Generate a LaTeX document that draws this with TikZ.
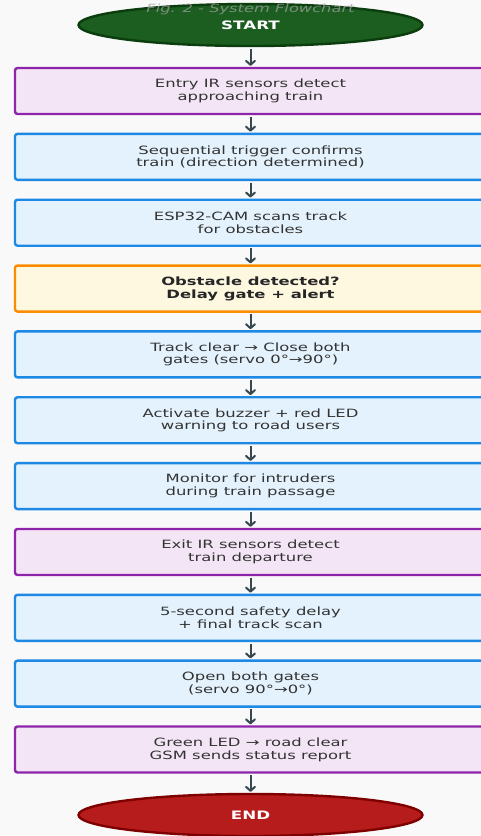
\documentclass[tikz,border=0pt]{standalone}
\usepackage{fontspec}
\setmainfont[FakeStretch=1.44]{DejaVu Sans}
\usetikzlibrary{shapes.geometric,arrows.meta}
\definecolor{bgc}{HTML}{F9F9F9}
\definecolor{purpB}{HTML}{8E24AA}
\definecolor{purpF}{HTML}{F3E5F5}
\definecolor{blueB}{HTML}{1E88E5}
\definecolor{blueF}{HTML}{E3F2FD}
\definecolor{orgB}{HTML}{FB8C00}
\definecolor{orgF}{HTML}{FFF8E1}
\definecolor{startF}{HTML}{1B5E20}
\definecolor{startB}{HTML}{0B3D0F}
\definecolor{endF}{HTML}{B71C1C}
\definecolor{endB}{HTML}{7F0000}
\definecolor{arrC}{HTML}{37474F}
\definecolor{txtC}{HTML}{333333}
\tikzset{
  box/.style={draw, line width=2.4pt, rounded corners=2.5pt, minimum width=471pt, minimum height=46pt,
    inner sep=0pt, align=center, text=txtC, font=\fontsize{11.4}{12.8}\selectfont,
    execute at begin node={\rule{0pt}{12pt}}},
  pbox/.style={box, draw=purpB, fill=purpF},
  bbox/.style={box, draw=blueB, fill=blueF},
  obox/.style={box, draw=orgB, fill=orgF, text=black!85, font=\fontsize{11.4}{12.8}\selectfont\bfseries},
  term/.style={ellipse, line width=2.4pt, minimum width=344pt, minimum height=42pt, inner sep=0pt,
    text=white, font=\fontsize{11.6}{13}\selectfont\bfseries},
  arr/.style={draw=arrC, line width=2pt, -{Straight Barb[length=4pt,width=9pt,line width=2pt,round]},
    shorten <=1.5pt, shorten >=1pt}
}
\begin{document}
\begin{tikzpicture}[x=1pt,y=-1pt]
\useasboundingbox (0,0) rectangle (481,836);
\fill[bgc] (0,0) rectangle (481,836);
\clip (0,0) rectangle (481,836);
\node[term, draw=startB, fill=startF] (start) at (250.5,25) {START};
\node[font=\fontsize{11.3}{13}\selectfont\itshape, text=gray!75, opacity=0.75, anchor=base] (title) at (250.5,12) {Fig. 2 - System Flowchart};
\node[pbox] (b1)  at (250.5,91.0)  {Entry IR sensors detect\\approaching train};
\node[bbox] (b2)  at (250.5,156.85) {Sequential trigger confirms\\train (direction determined)};
\node[bbox] (b3)  at (250.5,222.7) {ESP32-CAM scans track\\for obstacles};
\node[obox] (b4)  at (250.5,288.55) {Obstacle detected?\\Delay gate + alert};
\node[bbox] (b5)  at (250.5,354.4) {Track clear → Close both\\gates (servo 0°→90°)};
\node[bbox] (b6)  at (250.5,420.25) {Activate buzzer + red LED\\warning to road users};
\node[bbox] (b7)  at (250.5,486.1) {Monitor for intruders\\during train passage};
\node[pbox] (b8)  at (250.5,551.95) {Exit IR sensors detect\\train departure};
\node[bbox] (b9)  at (250.5,617.8) {5-second safety delay\\+ final track scan};
\node[bbox] (b10) at (250.5,683.65) {Open both gates\\(servo 90°→0°)};
\node[pbox] (b11) at (250.5,749.5) {Green LED → road clear\\GSM sends status report};
\node[term, draw=endB, fill=endF] (end) at (250.5,815) {END};
\draw[arr] (start.south) -- (b1.north);
\foreach \a/\b in {b1/b2,b2/b3,b3/b4,b4/b5,b5/b6,b6/b7,b7/b8,b8/b9,b9/b10,b10/b11,b11/end}
  \draw[arr] (\a.south) -- (\b.north);
\end{tikzpicture}
\end{document}
